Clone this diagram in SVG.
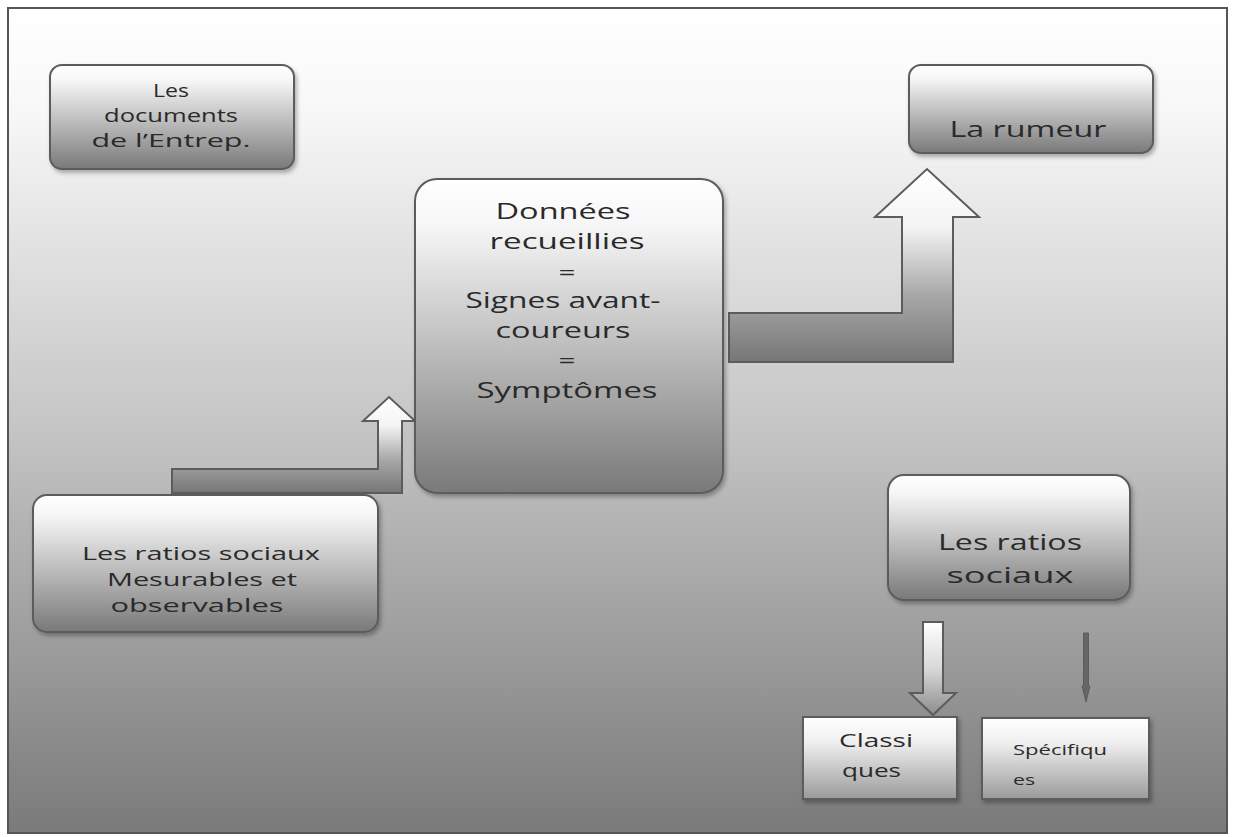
<svg xmlns="http://www.w3.org/2000/svg" width="1234" height="837" viewBox="0 0 1234 837">
  <defs>
    <linearGradient id="bg" x1="0" y1="0" x2="0" y2="1">
      <stop offset="0" stop-color="#ffffff"/>
      <stop offset="0.12" stop-color="#f8f8f8"/>
      <stop offset="0.5" stop-color="#c6c6c6"/>
      <stop offset="1" stop-color="#7a7a7a"/>
    </linearGradient>
    <linearGradient id="boxFill" x1="0" y1="0" x2="0" y2="1">
      <stop offset="0" stop-color="#ffffff"/>
      <stop offset="0.15" stop-color="#f6f6f6"/>
      <stop offset="0.6" stop-color="#b4b4b4"/>
      <stop offset="1" stop-color="#797979"/>
    </linearGradient>
    <linearGradient id="squareFill" x1="0" y1="0" x2="0" y2="1">
      <stop offset="0" stop-color="#ffffff"/>
      <stop offset="0.3" stop-color="#f0f0f0"/>
      <stop offset="1" stop-color="#9a9a9a"/>
    </linearGradient>
    <linearGradient id="arrowFill" x1="0" y1="0" x2="0" y2="1">
      <stop offset="0" stop-color="#ffffff"/>
      <stop offset="0.3" stop-color="#f4f4f4"/>
      <stop offset="0.65" stop-color="#a8a8a8"/>
      <stop offset="1" stop-color="#767676"/>
    </linearGradient>
    <linearGradient id="downFill" x1="0" y1="0" x2="0" y2="1">
      <stop offset="0" stop-color="#ffffff"/>
      <stop offset="0.5" stop-color="#d8d8d8"/>
      <stop offset="1" stop-color="#8c8c8c"/>
    </linearGradient>
    <filter id="shadow" x="-10%" y="-10%" width="125%" height="130%">
      <feDropShadow dx="2" dy="3" stdDeviation="2" flood-color="#000" flood-opacity="0.3"/>
    </filter>
  </defs>
  <style>
    .box { fill: url(#boxFill); stroke: #5c5c5c; stroke-width: 2; filter: url(#shadow); }
    .sq { fill: url(#squareFill); stroke: #5c5c5c; stroke-width: 2; filter: url(#shadow); }
    .arrow { fill: url(#arrowFill); stroke: #5c5c5c; stroke-width: 2; stroke-linejoin: miter; }
    .down { fill: url(#downFill); stroke: #5c5c5c; stroke-width: 2; }
    text { font-family: "Open Sans", "Liberation Sans", sans-serif; fill: #2a2a2a; }
    .c { text-anchor: middle; }
  </style>

  <!-- page background and frame -->
  <rect x="8" y="8" width="1219" height="825" fill="url(#bg)" stroke="#555" stroke-width="2"/>

  <!-- connectors -->
  <g id="connectors">
    <!-- bent arrow from the measurable ratios up to the collected data -->
    <path class="arrow" d="M172,469 H378 V421 H363 L389,397 L415,421 H402 V493 H172 Z"/>
    <!-- bent arrow from the collected data up to the rumour -->
    <path class="arrow" d="M729,313 H902 V217 H875 L927,169 L979,217 H953 V362 H729 Z"/>
    <!-- hollow arrow down to "Classiques" -->
    <path class="down" d="M923,622 H943 V693 H956 L933,715 L910,693 H923 Z"/>
    <!-- thin arrow down to "Spécifiques" -->
    <path d="M1083.5,633 H1088.5 V686 H1090 L1086,702 L1082,686 H1083.5 Z" fill="#666" stroke="#5c5c5c" stroke-width="1"/>
  </g>

  <g id="node-documents">
    <rect class="box" x="50" y="65" width="244" height="104" rx="12"/>
    <text class="c" x="171" y="97" font-size="18" textLength="36" lengthAdjust="spacingAndGlyphs">Les</text>
    <text class="c" x="171" y="122" font-size="18" textLength="134" lengthAdjust="spacingAndGlyphs">documents</text>
    <text class="c" x="171" y="147" font-size="18" textLength="159" lengthAdjust="spacingAndGlyphs">de l’Entrep.</text>
  </g>

  <g id="node-rumeur">
    <rect class="box" x="909" y="65" width="244" height="88" rx="12"/>
    <text class="c" x="1028" y="137" font-size="22" textLength="157" lengthAdjust="spacingAndGlyphs">La rumeur</text>
  </g>

  <g id="node-donnees">
    <rect class="box" x="415" y="179" width="308" height="314" rx="22"/>
    <text class="c" x="563" y="219" font-size="22" textLength="135" lengthAdjust="spacingAndGlyphs">Données</text>
    <text class="c" x="567" y="249" font-size="22" textLength="155" lengthAdjust="spacingAndGlyphs">recueillies</text>
    <text class="c" x="567" y="280" font-size="22" textLength="17" lengthAdjust="spacingAndGlyphs">=</text>
    <text class="c" x="563" y="308" font-size="22" textLength="195" lengthAdjust="spacingAndGlyphs">Signes avant-</text>
    <text class="c" x="563" y="338" font-size="22" textLength="135" lengthAdjust="spacingAndGlyphs">coureurs</text>
    <text class="c" x="567" y="368" font-size="22" textLength="17" lengthAdjust="spacingAndGlyphs">=</text>
    <text class="c" x="567" y="398" font-size="22" textLength="181" lengthAdjust="spacingAndGlyphs">Symptômes</text>
  </g>

  <g id="node-ratios-mesurables">
    <rect class="box" x="33" y="495" width="345" height="137" rx="14"/>
    <text class="c" x="201" y="560" font-size="18" textLength="238" lengthAdjust="spacingAndGlyphs">Les ratios sociaux</text>
    <text class="c" x="202" y="586" font-size="18" textLength="190" lengthAdjust="spacingAndGlyphs">Mesurables et</text>
    <text class="c" x="197" y="612" font-size="18" textLength="173" lengthAdjust="spacingAndGlyphs">observables</text>
  </g>

  <g id="node-ratios-sociaux">
    <rect class="box" x="888" y="475" width="242" height="125" rx="16"/>
    <text class="c" x="1010" y="550" font-size="22" textLength="144" lengthAdjust="spacingAndGlyphs">Les ratios</text>
    <text class="c" x="1010" y="583" font-size="22" textLength="127" lengthAdjust="spacingAndGlyphs">sociaux</text>
  </g>

  <g id="node-classiques">
    <rect class="sq" x="803" y="717" width="154" height="82"/>
    <text x="839" y="747" font-size="19" textLength="74" lengthAdjust="spacingAndGlyphs">Classi</text>
    <text x="842" y="777" font-size="19" textLength="59" lengthAdjust="spacingAndGlyphs">ques</text>
  </g>

  <g id="node-specifiques">
    <rect class="sq" x="982" y="718" width="167" height="81"/>
    <text x="1013" y="755" font-size="14" textLength="94" lengthAdjust="spacingAndGlyphs">Spécifiqu</text>
    <text x="1013" y="785" font-size="14" textLength="22" lengthAdjust="spacingAndGlyphs">es</text>
  </g>
</svg>
